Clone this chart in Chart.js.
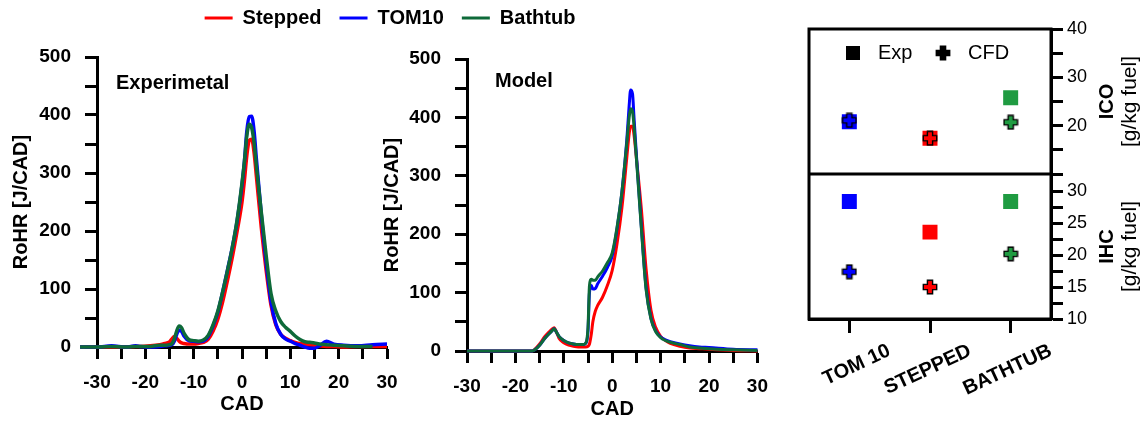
<!DOCTYPE html>
<html>
<head>
<meta charset="utf-8">
<script src="https://cdn.jsdelivr.net/npm/chart.js@4.4.0/dist/chart.umd.min.js"></script>
<style>
  html, body { margin: 0; padding: 0; background: #fff; }
  #wrap { position: relative; width: 1146px; height: 421px; overflow: hidden; }
  .pane { position: absolute; top: 0; }
</style>
</head>
<body>
<div id="wrap">
  <div class="pane" style="left:0"><canvas id="expChart" width="780" height="421"></canvas></div>
  <div class="pane" style="left:380px"><canvas id="modelChart" width="400" height="421"></canvas></div>
  <div class="pane" style="left:790px"><canvas id="emisChart" width="356" height="421"></canvas></div>
</div>
<script>
// ---- data ----
var cadTicks = [-30, -25, -20, -15, -10, -5, 0, 5, 10, 15, 20, 25, 30];
var rohrTicks = [0, 50, 100, 150, 200, 250, 300, 350, 400, 450, 500];

// experimental RoHR
var expCad     = [-33.5, -30, -27, -24, -22, -21, -19, -17, -16, -15, -14.5, -14, -13.5, -13, -12.5, -12, -11, -10, -9, -8, -7, -6, -5, -4, -3, -2, -1, 0, 0.5, 1, 1.5, 2, 2.5, 3, 4, 5, 6, 7, 8, 9, 10, 11, 12, 13, 14, 15, 16, 17.5, 19, 21, 24, 27, 30, 33];
var expStepped = [0, 0, 0, 0, 1, 1, 2, 4, 6, 9, 14, 18, 15, 10, 7, 6, 5, 5, 6, 8, 13, 27, 48, 78, 115, 155, 200, 250, 287, 330, 356, 358, 335, 292, 205, 132, 72, 38, 22, 15, 11, 8, 6, 5, 4, 3, 2, 1, 1, 0, 1, 1, 1, 1];
var expTom10   = [0, 0, 2, 0, 2, 1, 0, 1, 2, 3, 4, 10, 22, 29, 27, 19, 11, 10, 9, 10, 18, 36, 60, 95, 133, 172, 218, 280, 320, 372, 397, 398, 372, 322, 228, 145, 78, 40, 22, 14, 10, 6, 3, 0, -2, -2, 2, 10, 5, 3, 2, 4, 5, null];
var expBathtub = [0, 0, 1, 0, 1, 1, 1, 3, 3, 4, 6, 14, 28, 36, 33, 24, 13, 11, 10, 12, 20, 38, 62, 95, 132, 172, 220, 283, 320, 364, 384, 378, 352, 310, 232, 158, 92, 62, 44, 34, 27, 19, 13, 9, 8, 7, 5, 4, 3, 2, 1, 1, null, null];

// model RoHR
var modelCad     = [-30, -25, -20, -17, -16.5, -16, -15, -14, -13, -12.5, -12, -11.5, -11, -10, -9, -8, -7, -6, -5.5, -5, -4.7, -4.3, -4, -3.5, -3, -2, -1, 0, 1, 2, 3, 3.5, 3.8, 4.2, 4.5, 5, 6, 7, 8, 9, 10, 11, 12, 14, 16, 18, 20, 25, 30];
var modelStepped = [0, 0, 0, 0, 0, 3, 12, 24, 33, 37, 40, 32, 22, 14, 10, 8, 7, 7, 7, 8, 12, 30, 50, 68, 78, 92, 112, 138, 184, 245, 330, 372, 385, 385, 370, 330, 245, 140, 70, 40, 25, 18, 13, 8, 5, 4, 3, 1, 0];
var modelTom10   = [0, 0, 0, 0, 0, 2, 10, 21, 30, 34, 38, 32, 25, 18, 14, 12, 11, 11, 13, 35, 100, 112, 106, 107, 115, 128, 143, 163, 210, 272, 360, 420, 447, 440, 400, 335, 215, 108, 56, 34, 24, 19, 16, 12, 9, 7, 6, 3, 2];
var modelBathtub = [0, 0, 0, 0, 0, 2, 10, 21, 30, 34, 38, 32, 25, 18, 14, 12, 11, 11, 13, 40, 112, 123, 121, 121, 127, 137, 151, 168, 212, 272, 355, 400, 415, 410, 385, 330, 212, 105, 55, 33, 23, 18, 15, 11, 7, 5, 4, 2, 1];

// emissions
var engines = ['TOM 10', 'STEPPED', 'BATHTUB'];
var icoExp = [20.8, 17.4, 25.8];
var icoCfd = [21.1, 17.4, 20.7];
var ihcExp = [28.4, 23.6, 28.4];
var ihcCfd = [17.4, 15.0, 20.2];
var icoTicks = [10, 15, 20, 25, 30, 35, 40];
var ihcTicks = [10, 12.5, 15, 17.5, 20, 22.5, 25, 27.5, 30];

// ---- styling ----
var RED = '#ff0000', BLUE = '#0000ff', GREEN = '#0e6a39', GREEN_MK = '#1f9b41';
var engineColors = [BLUE, RED, GREEN_MK];
var FONT = 'Arial, "Liberation Sans", Helvetica, sans-serif';
Chart.defaults.font.family = FONT;
Chart.defaults.color = '#000';

function toXY(xs, ys) {
  var out = [];
  for (var i = 0; i < xs.length; i++) {
    if (ys[i] !== null) out.push({x: xs[i], y: ys[i]});
  }
  return out;
}

function lineSet(label, xs, ys, color, order, width) {
  return {
    label: label, data: toXY(xs, ys),
    borderColor: color, backgroundColor: color,
    borderWidth: width, pointRadius: 0, fill: false,
    cubicInterpolationMode: 'monotone', clip: false, order: order
  };
}

var tickGrid = {drawOnChartArea: false, tickLength: 12, tickWidth: 3, tickColor: '#000', color: '#000'};
var axisBorder = {display: true, color: '#000', width: 3};

function cadAxis(height, titlePad) {
  return {
    type: 'linear', min: -30, max: 30,
    afterBuildTicks: function(s) { s.ticks = cadTicks.map(function(v) { return {value: v}; }); },
    afterFit: function(s) { s.height = height; },
    grid: tickGrid, border: axisBorder,
    ticks: {
      autoSkip: false, maxRotation: 0, padding: 12,
      font: {size: 19, weight: 'bold'}, color: '#000',
      callback: function(v) { return v % 10 === 0 ? String(v) : ''; }
    },
    title: {display: true, text: 'CAD', color: '#000', font: {size: 20, weight: 'bold'}, padding: {top: 0, bottom: titlePad}}
  };
}

function rohrAxis(width, titlePad) {
  return {
    type: 'linear', min: 0, max: 500,
    afterBuildTicks: function(s) { s.ticks = rohrTicks.map(function(v) { return {value: v}; }); },
    afterFit: function(s) { s.width = width; },
    grid: tickGrid, border: axisBorder,
    ticks: {
      autoSkip: false, padding: 14,
      font: {size: 19, weight: 'bold'}, color: '#000',
      callback: function(v) { return v % 100 === 0 ? String(v) : ''; }
    },
    title: {display: true, text: 'RoHR [J/CAD]', color: '#000', font: {size: 20, weight: 'bold'}, padding: {top: titlePad, bottom: 0}}
  };
}

// text written inside a plot corner
var cornerText = {
  id: 'cornerText',
  afterDraw: function(chart, args, o) {
    if (!o || !o.text) return;
    var ctx = chart.ctx, a = chart.chartArea;
    ctx.save();
    ctx.font = 'bold 20px ' + FONT;
    ctx.fillStyle = '#000';
    ctx.textBaseline = 'middle';
    ctx.fillText(o.text, a.left + o.dx, a.top + o.dy);
    ctx.restore();
  }
};

// ---- experimental panel (also carries the shared legend) ----
new Chart(document.getElementById('expChart'), {
  type: 'line',
  data: {
    datasets: [
      lineSet('Stepped', expCad, expStepped, RED, 3, 3.5),
      lineSet('TOM10', expCad, expTom10, BLUE, 2, 3.5),
      lineSet('Bathtub', expCad, expBathtub, GREEN, 1, 3.5)
    ]
  },
  options: {
    responsive: false, animation: false, events: [],
    layout: {padding: 0},
    scales: {
      x: cadAxis(74, 5),
      y: rohrAxis(97, 9),
      yr: {
        type: 'linear', position: 'right', display: true,
        afterFit: function(s) { s.width = 393; },
        grid: {display: false}, border: {display: false}, ticks: {display: false}
      }
    },
    plugins: {
      legend: {
        display: true, position: 'top',
        labels: {
          usePointStyle: true, pointStyle: 'line', pointStyleWidth: 28,
          padding: 8, color: '#000', font: {size: 20, weight: 'bold'},
          sort: function(a, b) { return a.datasetIndex - b.datasetIndex; },
          generateLabels: function(chart) {
            var items = Chart.defaults.plugins.legend.labels.generateLabels(chart);
            items.forEach(function(it) { it.lineWidth = 3; if (it.datasetIndex < 2) it.text += '\u2002'; });
            return items;
          }
        }
      },
      title: {display: true, text: '', weight: 500, font: {size: 10, lineHeight: 1}, padding: {top: 0, bottom: 9}},
      tooltip: {enabled: false},
      cornerText: {text: 'Experimetal', dx: 19, dy: 26}
    }
  },
  plugins: [cornerText]
});

// ---- model panel ----
new Chart(document.getElementById('modelChart'), {
  type: 'line',
  data: {
    datasets: [
      lineSet('Stepped', modelCad, modelStepped, RED, 3, 3),
      lineSet('TOM10', modelCad, modelTom10, BLUE, 2, 3),
      lineSet('Bathtub', modelCad, modelBathtub, GREEN, 1, 3)
    ]
  },
  options: {
    responsive: false, animation: false, events: [],
    layout: {padding: {left: 0, top: 59, right: 22, bottom: 0}},
    scales: {
      x: cadAxis(70, 0),
      y: rohrAxis(87, 0)
    },
    plugins: {
      legend: {display: false},
      tooltip: {enabled: false},
      cornerText: {text: 'Model', dx: 28, dy: 22}
    }
  },
  plugins: [cornerText]
});

// ---- emissions panel ----
function makeCross(fill) {
  var c = document.createElement('canvas');
  c.width = 16; c.height = 16;
  var g = c.getContext('2d');
  var m = 8, a = 2.6, b = 6.7;
  g.beginPath();
  g.moveTo(m - a, m - b); g.lineTo(m + a, m - b); g.lineTo(m + a, m - a);
  g.lineTo(m + b, m - a); g.lineTo(m + b, m + a); g.lineTo(m + a, m + a);
  g.lineTo(m + a, m + b); g.lineTo(m - a, m + b); g.lineTo(m - a, m + a);
  g.lineTo(m - b, m + a); g.lineTo(m - b, m - a); g.lineTo(m - a, m - a);
  g.closePath();
  g.fillStyle = fill; g.fill();
  g.lineWidth = 1.4; g.strokeStyle = '#000'; g.stroke();
  return c;
}
var crossImgs = engineColors.map(makeCross);
var legendCross = makeCross('#000');

var frame = {
  id: 'frame',
  beforeDatasetsDraw: function(chart) {
    var ctx = chart.ctx, a = chart.chartArea, mid = chart.scales.yIco.bottom;
    ctx.save();
    ctx.strokeStyle = '#000'; ctx.lineWidth = 3;
    ctx.strokeRect(a.left, a.top, a.right - a.left, a.bottom - a.top);
    ctx.beginPath(); ctx.moveTo(a.left, mid); ctx.lineTo(a.right, mid); ctx.stroke();
    ctx.restore();
  }
};

var sideTitles = {
  id: 'sideTitles',
  afterDraw: function(chart) {
    var ctx = chart.ctx;
    [['yIco', 'ICO'], ['yIhc', 'IHC']].forEach(function(p) {
      var s = chart.scales[p[0]], cy = (s.top + s.bottom) / 2;
      ctx.save();
      ctx.fillStyle = '#000'; ctx.textAlign = 'center'; ctx.textBaseline = 'middle';
      ctx.translate(s.left + 56, cy); ctx.rotate(-Math.PI / 2);
      ctx.font = 'bold 20px ' + FONT;
      ctx.fillText(p[1], 0, 0);
      ctx.restore();
      ctx.save();
      ctx.fillStyle = '#000'; ctx.textAlign = 'center'; ctx.textBaseline = 'middle';
      ctx.translate(s.left + 79, cy); ctx.rotate(-Math.PI / 2);
      ctx.font = '21px ' + FONT;
      ctx.fillText('[g/kg fuel]', 0, 0);
      ctx.restore();
    });
  }
};

var markerLegend = {
  id: 'markerLegend',
  afterDraw: function(chart) {
    var ctx = chart.ctx, a = chart.chartArea, y = a.top + 24;
    ctx.save();
    ctx.fillStyle = '#000';
    ctx.fillRect(a.left + 37, y - 7, 14, 14);
    ctx.drawImage(legendCross, a.left + 134 - 8, y - 8);
    ctx.font = '20px ' + FONT;
    ctx.textBaseline = 'middle';
    ctx.fillText('Exp', a.left + 69, y);
    ctx.fillText('CFD', a.left + 159, y);
    ctx.restore();
  }
};

function emisAxis(min, max, ticks, labelled) {
  return {
    type: 'linear', position: 'right', stack: 'emis', stackWeight: 1,
    min: min, max: max,
    afterBuildTicks: function(s) { s.ticks = ticks.map(function(v) { return {value: v}; }); },
    afterFit: function(s) { s.width = 95; },
    grid: tickGrid, border: axisBorder,
    ticks: {
      autoSkip: false, padding: 4, font: {size: 18}, color: '#000',
      callback: function(v) { return labelled.indexOf(v) >= 0 ? String(v) : ''; }
    }
  };
}

function markerSet(label, values, axis, style, order) {
  return {
    label: label, data: values, yAxisID: axis, showLine: false,
    pointStyle: style, pointRadius: 10.6, pointBorderWidth: 0,
    pointBackgroundColor: engineColors, order: order
  };
}

new Chart(document.getElementById('emisChart'), {
  type: 'line',
  data: {
    labels: engines,
    datasets: [
      markerSet('ICO Exp', icoExp, 'yIco', 'rect', 2),
      markerSet('ICO CFD', icoCfd, 'yIco', crossImgs, 1),
      markerSet('IHC Exp', ihcExp, 'yIhc', 'rect', 2),
      markerSet('IHC CFD', ihcCfd, 'yIhc', crossImgs, 1)
    ]
  },
  options: {
    responsive: false, animation: false, events: [],
    layout: {padding: {left: 19, top: 29, right: 0, bottom: 0}},
    scales: {
      x: {
        type: 'category', offset: true,
        afterFit: function(s) { s.height = 102; s.paddingLeft = 0; s.paddingRight = 0; },
        grid: {drawOnChartArea: false, offset: false, tickLength: 14, tickWidth: 3, tickColor: '#000', color: '#000'},
        border: axisBorder,
        ticks: {autoSkip: false, minRotation: 25, maxRotation: 25, labelOffset: 40, padding: 6, font: {size: 20, weight: 'bold'}, color: '#000'}
      },
      yIco: emisAxis(10, 40, icoTicks, [20, 30, 40]),
      yIhc: emisAxis(10, 32.7, ihcTicks, [10, 15, 20, 25, 30])
    },
    plugins: {
      legend: {display: false},
      tooltip: {enabled: false}
    }
  },
  plugins: [frame, sideTitles, markerLegend]
});
</script>
</body>
</html>
